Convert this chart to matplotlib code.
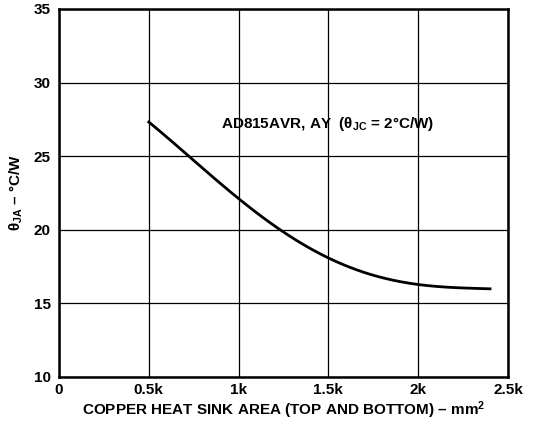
import numpy as np
import matplotlib
matplotlib.use('Agg')
import matplotlib.pyplot as plt

# Curve values
area_k = [0.5, 0.75, 1.0, 1.25, 1.5, 1.75, 2.0, 2.2, 2.4]
theta_ja = [27.3, 24.8, 22.0, 19.9, 18.1, 16.9, 16.3, 16.05, 16.0]

x_ticks = [0, 0.5, 1.0, 1.5, 2.0, 2.5]
x_tick_labels = ['0', '0.5k', '1k', '1.5k', '2k', '2.5k']
y_ticks = [10, 15, 20, 25, 30, 35]

plt.rcParams['font.family'] = ['Liberation Sans', 'DejaVu Sans']
plt.rcParams['font.weight'] = 'bold'
plt.rcParams['mathtext.fontset'] = 'custom'
plt.rcParams['mathtext.rm'] = 'Liberation Sans:bold'
plt.rcParams['mathtext.it'] = 'Liberation Sans:bold'
plt.rcParams['mathtext.bf'] = 'Liberation Sans:bold'

fig = plt.figure(figsize=(5.35, 4.25), dpi=100)
ax = fig.add_axes([59 / 535, 48 / 425, 449 / 535, 368 / 425])

# smooth the curve through the read points
xs = np.linspace(area_k[0], area_k[-1], 200)
coef = np.polyfit(area_k, theta_ja, 4)
ax.plot(xs, np.polyval(coef, xs), color='black', lw=2.0, zorder=3)

ax.set_xlim(0, 2.5)
ax.set_ylim(10, 35)
ax.set_xticks(x_ticks)
ax.set_xticklabels(x_tick_labels)
ax.set_yticks(y_ticks)
ax.grid(True, color='black', lw=0.9)
ax.tick_params(length=0, labelsize=11)
ax.tick_params(axis='x', pad=4)
ax.tick_params(axis='y', pad=6)
for lbl in ax.get_xticklabels() + ax.get_yticklabels():
    lbl.set_fontweight('bold')
for s in ax.spines.values():
    s.set_linewidth(1.8)

ax.text(0.9, 27.2, r'AD815AVR, AY  ($\theta_{\mathregular{JC}}$ = 2°C/W)',
        fontsize=11, fontweight='bold', va='center', ha='left')

ax.set_xlabel(r'COPPER HEAT SINK AREA (TOP AND BOTTOM) – mm$^{\mathregular{2}}$',
              fontsize=11, fontweight='bold', labelpad=2)
ax.set_ylabel(r'$\theta_{\mathregular{JA}}$ – °C/W', fontsize=11,
              fontweight='bold', labelpad=6)

fig.savefig('out.png', dpi=100)
